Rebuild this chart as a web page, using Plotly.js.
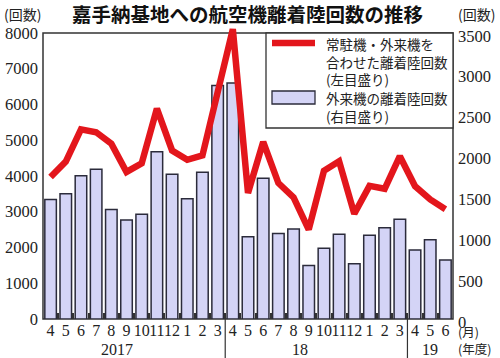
<!DOCTYPE html>
<html>
<head>
<meta charset="utf-8">
<script src="https://cdn.plot.ly/plotly-3.0.1.min.js"></script>
<style>html,body{margin:0;padding:0;background:#fff;}#chart{width:500px;height:358px;}</style>
</head>
<body>
<div id="chart"></div>
<script>
// ---- data ----
const periods = ['2017-04','2017-05','2017-06','2017-07','2017-08','2017-09','2017-10','2017-11','2017-12','2018-01','2018-02','2018-03',
                 '2018-04','2018-05','2018-06','2018-07','2018-08','2018-09','2018-10','2018-11','2018-12','2019-01','2019-02','2019-03',
                 '2019-04','2019-05','2019-06'];
const monthLabels = ['4','5','6','7','8','9','10','11','12','1','2','3',
                     '4','5','6','7','8','9','10','11','12','1','2','3',
                     '4','5','6'];
const totalFlights = [3970, 4400, 5300, 5220, 4900, 4110, 4350, 5880, 4710, 4450, 4570, 6400,
                      8100, 3520, 4950, 3800, 3400, 2500, 4140, 4410, 2940, 3720, 3640, 4550,
                      3710, 3340, 3070];
const visitingFlights = [1460, 1530, 1750, 1830, 1340, 1210, 1280, 2045, 1770, 1470, 1795, 2855,
                         2885, 1005, 1720, 1045, 1100, 655, 865, 1035, 675, 1025, 1115, 1220,
                         845, 970, 720];
const fiscalYears = ['2017', '18', '19'];
const leftTicks = [0,1000,2000,3000,4000,5000,6000,7000,8000];
const rightTicks = [0,500,1000,1500,2000,2500,3000,3500];
const titleText = '嘉手納基地への航空機離着陸回数の推移';
const legendLine = ['常駐機・外来機を','合わせた離着陸回数','(左目盛り)'];
const legendBar = ['外来機の離着陸回数','(右目盛り)'];

// ---- layout helpers (pixel -> paper) ----
const L = 43, R = 453, T = 22, B = 319;
const px = v => (v - L) / (R - L);
const py = v => (B - v) / (B - T);
const leftMax = 8000, rightMax = 3500, over = 8300 / 8000;

const serif = 'Liberation Serif, serif';
const jp = 'Noto Sans CJK JP, sans-serif';
const ink = '#222';

const traces = [
  {
    type: 'bar', x: periods, y: visitingFlights, yaxis: 'y',
    marker: {color: '#d4d4f6', line: {color: '#2b2b3b', width: 1.5}},
    hoverinfo: 'skip', showlegend: false
  },
  {
    type: 'scatter', mode: 'lines', x: periods, y: totalFlights, yaxis: 'y2',
    line: {color: '#e3161c', width: 6.5},
    hoverinfo: 'skip', showlegend: false
  }
];

function ann(text, x, y, opts) {
  return Object.assign({text: text, x: px(x), y: py(y), xref: 'paper', yref: 'paper',
    showarrow: false, xanchor: 'center', yanchor: 'middle',
    font: {family: jp, size: 13, color: ink}}, opts || {});
}

const annotations = [
  ann('(回数)', 22.5, 14, {font: {family: jp, size: 14, color: ink}}),
  ann('(回数)', 476, 14, {font: {family: jp, size: 14, color: ink}}),
  ann(fiscalYears[0], 117, 349, {font: {family: serif, size: 16, color: ink}}),
  ann(fiscalYears[1], 300, 349, {font: {family: serif, size: 16, color: ink}}),
  ann(fiscalYears[2], 430, 349, {font: {family: serif, size: 16, color: ink}}),
  ann('(月)', 456, 331, {xanchor: 'left', font: {family: jp, size: 12.5, color: ink}}),
  ann('(年度)', 456, 348, {xanchor: 'left', font: {family: jp, size: 12.5, color: ink}}),
  ann(legendLine.join('<br>'), 324, 61.5, {xanchor: 'left', align: 'left',
      font: {family: jp, size: 13.5, color: ink}}),
  ann(legendBar.join('<br>'), 324, 107, {xanchor: 'left', align: 'left',
      font: {family: jp, size: 13.5, color: ink}})
];

const shapes = [
  // plot frame
  {type: 'rect', xref: 'paper', x0: 0, x1: 1, yref: 'paper', y0: 0, y1: py(33),
   line: {color: '#333', width: 1.5}, layer: 'below'},
  // fiscal year separators
  {type: 'line', xref: 'x', x0: 11.5, x1: 11.5, yref: 'paper', y0: py(358), y1: py(313),
   line: {color: '#333', width: 1.2}},
  {type: 'line', xref: 'x', x0: 23.5, x1: 23.5, yref: 'paper', y0: py(358), y1: py(313),
   line: {color: '#333', width: 1.2}},
  // legend box
  {type: 'rect', xref: 'paper', x0: px(266), x1: 1, yref: 'paper', y0: py(128), y1: py(33),
   fillcolor: '#fff', line: {color: '#333', width: 1.3}, layer: 'above'},
  {type: 'line', xref: 'paper', x0: px(272), x1: px(315), yref: 'paper', y0: py(43), y1: py(43),
   line: {color: '#e3161c', width: 6.5}, layer: 'above'},
  {type: 'rect', xref: 'paper', x0: px(272), x1: px(315), yref: 'paper', y0: py(104), y1: py(91),
   fillcolor: '#d4d4f6', line: {color: '#2b2b3b', width: 1.3}, layer: 'above'}
];

const layout = {
  width: 500, height: 358,
  margin: {l: L, r: 500 - R, t: T, b: 358 - B, pad: 0},
  paper_bgcolor: '#fff', plot_bgcolor: '#fff',
  showlegend: false,
  bargap: 0.24,
  title: {text: '<b>' + titleText + '</b>', x: 0.495, xref: 'container', xanchor: 'center',
          y: 1 - 15 / 358, yref: 'container', yanchor: 'middle',
          font: {family: jp, size: 19.5, color: '#111'}},
  xaxis: {
    type: 'category', range: [-0.5, 26.5], fixedrange: true,
    tickmode: 'array', tickvals: periods, ticktext: monthLabels,
    tickson: 'boundaries', ticks: 'inside', ticklen: 6, tickwidth: 2, tickcolor: '#333',
    tickangle: 0, showline: false, showgrid: false, zeroline: false,
    tickfont: {family: serif, size: 16, color: ink}
  },
  yaxis: {
    side: 'right', range: [0, rightMax * over], tickmode: 'array', tickvals: rightTicks,
    showline: false, showgrid: false, zeroline: false, ticks: '',
    tickfont: {family: serif, size: 16.5, color: ink}, ticklabelstandoff: 4, ticklabelshift: 3
  },
  yaxis2: {
    overlaying: 'y', side: 'left', range: [0, leftMax * over], tickmode: 'array', tickvals: leftTicks,
    showline: false, showgrid: false, zeroline: false, ticks: '',
    tickfont: {family: serif, size: 16.5, color: ink}, ticklabelstandoff: 4
  },
  annotations: annotations,
  shapes: shapes
};

Plotly.newPlot('chart', traces, layout, {displayModeBar: false, staticPlot: true});
</script>
</body>
</html>
